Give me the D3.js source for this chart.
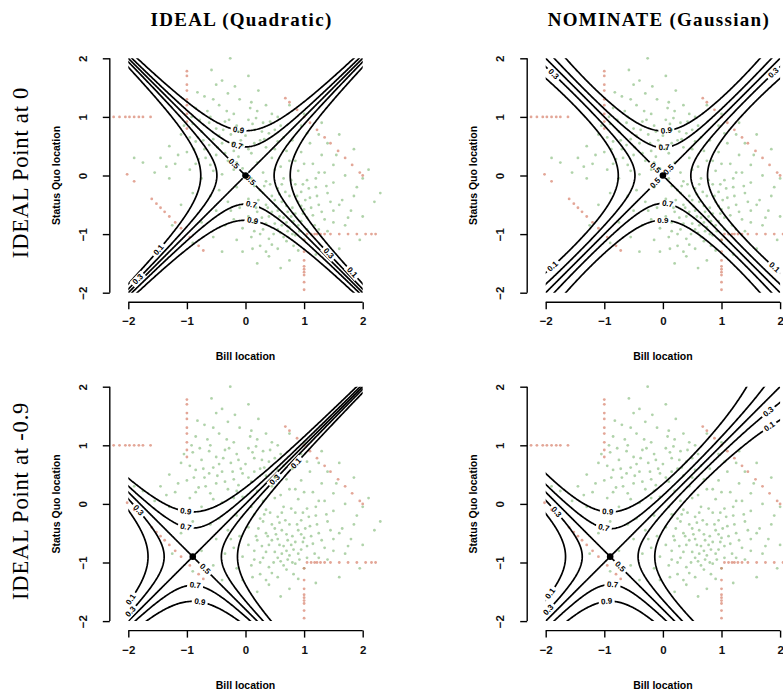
<!DOCTYPE html>
<html>
<head>
<meta charset="utf-8">
<script src="https://cdn.jsdelivr.net/npm/d3@7"></script>
<style>
body { margin: 0; background: #fff; }
</style>
</head>
<body>
<div id="chart"></div>
<script>
var W = 783, H = 695;

// rows = legislator ideal point, columns = utility model
var rowIdeals = [0, -0.9];
var rowLabels = ["IDEAL Point at 0", "IDEAL Point at -0.9"];
var colTitles = ["IDEAL (Quadratic)", "NOMINATE (Gaussian)"];
var colModels = ["quadratic", "gaussian"];
var levels = [0.1, 0.3, 0.5, 0.7, 0.9];
var ticks = [-2, -1, 0, 1, 2];

// estimated bill / status quo pairs (green cloud), [bill, statusQuo]
var billPts = [
  [-0.26,2.0],[-0.58,1.8],[-0.5,1.55],[-0.3,1.4],[-0.7,1.35],[-0.1,1.3],[0.1,1.25],[0.35,1.2],[-0.45,1.2],[-0.85,1.15],
  [0.2,1.1],[-0.2,1.05],[0.45,1.05],[-0.6,1.0],[0.05,0.95],[-0.35,0.92],[0.3,0.9],[-0.9,0.88],[-0.15,0.85],[0.6,0.85],
  [-0.5,0.8],[0.15,0.78],[-0.75,0.75],[0.4,0.72],[-0.25,0.7],[-1.1,0.7],[0.0,0.68],[-0.55,0.62],[0.25,0.6],[-0.85,0.58],
  [0.55,0.58],[-0.4,0.55],[-0.05,0.52],[-1.3,0.5],[0.35,0.48],[-0.7,0.45],[-0.2,0.42],[0.7,0.42],[-1.0,0.4],[0.1,0.38],
  [-0.5,0.35],[-1.45,0.3],[0.45,0.3],[-0.8,0.28],[-0.3,0.25],[0.2,0.22],[-1.2,0.2],[-0.6,0.18],[0.6,0.15],[-0.05,0.12],
  [-0.95,0.1],[-1.55,0.05],[0.3,0.05],[-0.4,0.02],[-1.75,0.22],[-1.9,0.3],[-1.3,-0.05],[-0.75,-0.05],
  [0.8,0.6],[1.1,0.55],[0.95,0.4],[1.3,0.35],[0.75,0.25],[1.15,0.2],[1.5,0.18],[0.5,0.1],[0.9,0.08],[1.35,0.05],
  [1.7,0.0],[0.65,-0.05],[1.05,-0.08],[0.35,-0.1],[1.5,-0.12],[0.85,-0.15],[0.15,-0.18],[1.2,-0.2],[1.9,-0.2],[0.55,-0.22],
  [0.95,-0.28],[0.3,-0.3],[1.4,-0.3],[0.75,-0.35],[1.1,-0.38],[0.05,-0.4],[0.5,-0.42],[1.65,-0.42],[0.9,-0.45],[2.2,-0.45],
  [0.35,-0.5],[1.25,-0.5],[0.7,-0.52],[-0.1,-0.55],[1.0,-0.58],[0.55,-0.6],[1.5,-0.6],[0.2,-0.62],[0.85,-0.65],[1.15,-0.68],
  [0.4,-0.7],[2.0,-0.7],[0.65,-0.72],[-0.2,-0.75],[1.35,-0.75],[0.95,-0.78],[0.15,-0.8],[0.5,-0.82],[1.7,-0.85],[0.75,-0.88],
  [-0.05,-0.9],[0.3,-0.92],[1.05,-0.92],[0.6,-0.98],[0.85,-1.02],[0.1,-1.05],[0.4,-1.08],[-0.15,-1.1],[0.7,-1.12],[0.25,-1.2],
  [0.55,-1.25],[0.9,-1.28],[-0.05,-1.3],[0.4,-1.38],[0.75,-1.45],[0.2,-1.5],[0.6,-1.58],
  [-0.45,-0.25],[-0.15,-0.2],[0.1,-0.05],[-0.6,-0.35],[-0.3,-0.45],[-0.9,-0.3],[-0.5,-0.6],[-1.1,-0.5],[-0.75,-0.8],[-0.35,-0.85],
  [-1.25,-0.85],[-0.55,-1.05],[-0.9,-1.15],[-0.4,-1.3],[-0.2,0.1],[0.25,-0.25],
  [2.3,-0.3],[2.1,0.1],[1.85,0.45],[1.6,0.7],[1.3,0.9],[1.0,1.05],[0.75,1.2],[1.95,-1.1],[1.6,-1.25],[1.2,-1.35],
  [1.4,-0.95],[1.8,-0.6],[2.0,-0.05],[1.25,0.7],
  [0.45,-0.35],[0.8,-0.55],[0.62,-0.85],[1.02,-0.42],[0.28,-0.72],[0.92,-0.95],[1.18,-0.85],[0.48,-1.0],[0.72,-0.62],[0.38,-0.55],
  [1.3,-0.62],[0.15,-0.95],[0.58,-0.32],[0.82,-0.78],[1.08,-0.22],[0.22,-0.42],[-0.62,0.9],[-0.32,1.1],[-0.08,0.6],[-0.48,0.48],
  [0.12,0.88],[-0.72,0.6],[-0.22,0.55],[0.28,0.75],[-0.38,0.78],[-0.92,1.0],[0.08,1.15],[-0.55,1.3],[-0.12,0.32],[-0.68,0.3],
  [0.42,0.92],[-1.05,0.85],
  [-0.82,1.42],[-0.18,1.52],[0.22,1.45],[-0.4,1.62],[0.05,1.7],[-0.65,1.1],[-0.28,0.95],[0.18,0.98],[-0.78,0.95],[0.5,0.78],
  [-0.12,0.75],[-0.45,0.68],[-0.95,0.65],[0.32,0.62],[-0.62,0.52],[0.05,0.45],[-0.88,0.45],[-0.35,0.38],[0.5,0.45],[-1.15,0.35],
  [-0.15,0.22],[-0.55,0.08],[0.15,0.55],[-1.35,0.15],[-0.85,0.2],
  [0.62,-0.15],[1.0,0.2],[1.25,0.05],[0.42,-0.15],[0.78,-0.08],[1.38,-0.18],[0.98,-0.15],[0.68,-0.28],[1.22,-0.35],[0.88,-0.35],
  [0.52,-0.52],[0.62,-0.45],[0.95,-0.52],[1.12,-0.55],[0.78,-0.7],[0.45,-0.62],[1.05,-0.72],[0.35,-0.82],[0.7,-0.8],[0.9,-0.85],
  [1.25,-0.92],[0.55,-0.92],[0.8,-1.0],[0.25,-1.0],[0.65,-1.05],[1.0,-1.1],[0.45,-1.18],[0.82,-1.2],[0.12,-1.25],[1.5,-0.8],
  [1.6,-0.5],[1.45,-0.45],[1.85,-0.35],[1.2,-0.05],[1.55,0.35],[1.75,-0.72],[0.35,-1.3],[0.05,-0.7],[0.18,-0.55],[-0.25,-0.6],
  [0.58,-0.7],[0.72,-0.95],[0.98,-0.65],[0.32,-0.18],[0.85,0.25],[1.05,0.72],[0.65,0.65],[0.95,0.85],[0.55,1.0],[1.4,0.55]
];

// estimated restricted bills (red dashes), [bill, statusQuo]
var redPts = [
  [-2.25,1],[-2.15,1],[-2.05,1],[-1.98,1],[-1.9,1],[-1.82,1],[-1.75,1],[-1.62,1],
  [-1,1.78],[-1,1.7],[-1,1.55],[-1,1.45],[-1,1.3],[-1,1.2],[-1,1.05],[-1,0.92],[-1,0.8],
  [0.68,1.32],[0.75,1.25],[0.88,1.12],[1.0,1.0],[1.1,0.9],[1.22,0.78],[1.35,0.65],[1.45,0.55],[1.58,0.42],[1.7,0.3],[1.82,0.18],[1.95,0.05],[2.0,0.0],
  [-2.02,0.02],[-1.9,-0.1],[-1.6,-0.4],[-1.52,-0.48],[-1.45,-0.55],[-1.38,-0.62],[-1.3,-0.7],[-1.2,-0.8],[-1.1,-0.9],[-0.95,-1.05],[-0.8,-1.2],[-0.72,-1.28],
  [1.05,-1],[1.12,-1],[1.18,-1],[1.22,-1],[1.28,-1],[1.35,-1],[1.45,-1],[1.6,-1],[1.75,-1],[1.9,-1],[2.05,-1],[2.15,-1],[2.22,-1],
  [1,-1.1],[1,-1.3],[1,-1.45],[1,-1.55],[1,-1.6],[1,-1.65],[1,-1.7],[1,-1.82],[1,-1.95]
];

// where the contour labels sit, per panel [row][col]: [level, bill, sq]
var labelSpots = [
  [
    [[0.9,-0.13,0.76],[0.7,-0.15,0.5],[0.7,0.1,-0.5],[0.9,0.13,-0.76],[0.5,-0.26,0.13],[0.5,0.15,0.0],
     [0.1,-1.52,-1.25],[0.3,-1.86,-1.75],[0.3,1.44,-1.3],[0.1,1.81,-1.66]],
    [[0.9,0.07,0.76],[0.7,0.01,0.5],[0.7,0.07,-0.5],[0.9,0.0,-0.78],[0.5,-0.19,0.07],[0.5,-0.19,-0.07],[0.5,0.18,0.03],
     [0.3,-1.89,1.71],[0.1,-1.89,-1.55],[0.3,1.95,1.69],[0.1,1.92,-1.55]]
  ],
  [
    [[0.9,-1.03,-0.16],[0.7,-1.03,-0.42],[0.5,-0.72,-1.13],[0.7,-0.86,-1.41],[0.9,-0.78,-1.67],
     [0.3,-1.83,-0.1],[0.1,-1.94,-1.64],[0.3,-1.89,-1.9],[0.3,0.47,0.44],[0.1,0.87,0.69]],
    [[0.9,-0.93,-0.13],[0.7,-1.01,-0.4],[0.5,-0.76,-1.1],[0.7,-0.87,-1.41],[0.9,-0.96,-1.67],
     [0.3,-1.81,-0.13],[0.1,-1.92,-1.53],[0.3,-1.87,-1.89],[0.3,1.83,1.55],[0.1,1.8,1.34]]
  ]
];

var svg = d3.select("#chart").append("svg")
  .attr("width", W)
  .attr("height", H)
  .style("font-family", "'Liberation Sans', Arial, sans-serif");

function pnorm(z) {
  var t = 1 / (1 + 0.2316419 * Math.abs(z));
  var d = 0.3989423 * Math.exp(-z * z / 2);
  var p = d * t * (0.3193815 + t * (-0.3565638 + t * (1.781478 + t * (-1.821256 + t * 1.330274))));
  return z > 0 ? 1 - p : p;
}

function prob(model, theta, b, q) {
  var db = b - theta, dq = q - theta, z;
  if (model == "quadratic") z = 2.2 * (dq * dq - db * db);
  else z = 9.5 * (Math.exp(-0.25 * db * db) - Math.exp(-0.25 * dq * dq));
  return pnorm(z);
}

// grid for the contour surface
var n = 241, step = 0.02, g0 = -2.4;
function gridB(c) { return g0 + step * (c - 0.5); }
function gridQ(c) { return 2.41 - step * (c - 0.5); }

var colX0 = [128.3, 545.7];
var rowY0 = [58.3, 386.7];
var span = 234.4;

// column titles
colTitles.forEach(function(t, ci) {
  svg.append("text")
    .attr("x", colX0[ci] + span / 2 - 4)
    .attr("y", 26)
    .attr("text-anchor", "middle")
    .style("font-family", "'Liberation Serif', 'DejaVu Serif', serif")
    .style("font-weight", "bold")
    .style("font-size", "19px")
    .style("letter-spacing", "1.3px")
    .text(t);
});

// row labels
rowLabels.forEach(function(t, ri) {
  svg.append("text")
    .attr("transform", "translate(28," + (rowY0[ri] + span / 2 - 3) + ") rotate(-90)")
    .attr("text-anchor", "middle")
    .style("font-family", "'Liberation Serif', 'DejaVu Serif', serif")
    .style("font-size", "22.5px")
    .style("letter-spacing", "0.8px")
    .text(t);
});

rowIdeals.forEach(function(theta, ri) {
  colModels.forEach(function(model, ci) {
    var id = "p" + ri + ci;
    var xs = d3.scaleLinear().domain([-2, 2]).range([colX0[ci], colX0[ci] + span]);
    var ys = d3.scaleLinear().domain([-2, 2]).range([rowY0[ri] + span, rowY0[ri]]);
    var g = svg.append("g").attr("class", "panel");

    var axisX = colX0[ci] - 18.5;
    var axisY = rowY0[ri] + span + 9.5;

    // axes
    var fmt = function(d) { return d < 0 ? "\u2212" + Math.abs(d) : d; };
    var xAxis = d3.axisBottom(xs).tickValues(ticks).tickSize(7).tickPadding(8).tickFormat(fmt);
    var gx = g.append("g").attr("transform", "translate(0," + axisY + ")").call(xAxis);
    gx.select(".domain").attr("d", "M" + xs(-2) + ",0H" + xs(2));
    var yAxis = d3.axisLeft(ys).tickValues(ticks).tickSize(7).tickFormat(fmt);
    var gy = g.append("g").attr("transform", "translate(" + axisX + ",0)").call(yAxis);
    gy.select(".domain").attr("d", "M0," + ys(-2) + "V" + ys(2));
    gy.selectAll(".tick text")
      .attr("x", null).attr("dy", null)
      .attr("transform", "translate(-27,0) rotate(-90)")
      .attr("text-anchor", "middle")
      .attr("dominant-baseline", "central");
    [gx, gy].forEach(function(a) {
      a.selectAll("path, line").attr("stroke", "#000").attr("stroke-width", 1.4);
      a.selectAll("text").style("font-size", "11.5px").style("font-weight", "bold")
        .style("font-family", "'Liberation Sans', Arial, sans-serif").attr("fill", "#111");
    });

    g.append("text")
      .attr("x", xs(0))
      .attr("y", axisY + 58)
      .attr("text-anchor", "middle")
      .style("font-size", "10.5px")
      .style("font-weight", "bold")
      .text("Bill location");
    g.append("text")
      .attr("transform", "translate(" + (axisX - 50) + "," + ys(0) + ") rotate(-90)")
      .attr("text-anchor", "middle")
      .style("font-size", "10.5px")
      .style("font-weight", "bold")
      .text("Status Quo location");

    // points
    g.append("g").selectAll("circle")
      .data(billPts)
      .enter().append("circle")
      .attr("cx", d => xs(d[0]))
      .attr("cy", d => ys(d[1]))
      .attr("r", 1.4)
      .attr("fill", "#86bb7d")
      .attr("opacity", 0.65);
    g.append("g").selectAll("circle")
      .data(redPts)
      .enter().append("circle")
      .attr("cx", d => xs(d[0]))
      .attr("cy", d => ys(d[1]))
      .attr("r", 1.4)
      .attr("fill", "#d4775f")
      .attr("opacity", 0.65);

    // contour surface
    var vals = new Float64Array(n * n);
    for (var j = 0; j < n; j++) {
      for (var i = 0; i < n; i++) {
        vals[j * n + i] = prob(model, theta, g0 + step * i, 2.41 - step * j);
      }
    }
    var cs = d3.contours().size([n, n]).thresholds(levels)(vals);
    var proj = d3.geoTransform({
      point: function(x, y) { this.stream.point(xs(gridB(x)), ys(gridQ(y))); }
    });
    var path = d3.geoPath(proj);

    // label placement on the lines
    var labs = labelSpots[ri][ci].map(function(s) {
      var c = cs[levels.indexOf(s[0])];
      var tx = xs(s[1]), ty = ys(s[2]);
      var best = null, bd = Infinity;
      c.coordinates.forEach(function(poly) {
        poly.forEach(function(ring) {
          var pts = ring.map(function(p) { return [gridB(p[0]), gridQ(p[1])]; });
          pts.forEach(function(p, k) {
            if (Math.abs(p[0]) > 2.02 || Math.abs(p[1]) > 2.02) return;
            var px = xs(p[0]), py = ys(p[1]);
            var dd = (px - tx) * (px - tx) + (py - ty) * (py - ty);
            if (dd < bd) {
              bd = dd;
              var a = pts[(k - 2 + pts.length) % pts.length], b = pts[(k + 2) % pts.length];
              best = { x: px, y: py, ang: Math.atan2(ys(b[1]) - ys(a[1]), xs(b[0]) - xs(a[0])) * 180 / Math.PI };
            }
          });
        });
      });
      var ang = best.ang;
      if (ang > 90) ang -= 180;
      if (ang <= -90) ang += 180;
      return { x: best.x, y: best.y, ang: ang, text: String(s[0]) };
    });

    var defs = svg.append("defs");
    defs.append("clipPath").attr("id", "clip" + id)
      .append("rect").attr("x", xs(-2)).attr("y", ys(2)).attr("width", span).attr("height", span);
    var mask = defs.append("mask").attr("id", "mask" + id).attr("maskUnits", "userSpaceOnUse")
      .attr("x", 0).attr("y", 0).attr("width", W).attr("height", H);
    mask.append("rect").attr("width", W).attr("height", H).attr("fill", "#fff");
    mask.selectAll("rect.gap")
      .data(labs)
      .enter().append("rect")
      .attr("class", "gap")
      .attr("x", -8).attr("y", -4).attr("width", 16).attr("height", 8)
      .attr("fill", "#000")
      .attr("transform", d => "translate(" + d.x + "," + d.y + ") rotate(" + d.ang + ")");

    g.append("g")
      .attr("clip-path", "url(#clip" + id + ")")
      .attr("mask", "url(#mask" + id + ")")
      .selectAll("path")
      .data(cs)
      .enter().append("path")
      .attr("d", path)
      .attr("fill", "none")
      .attr("stroke", "#000")
      .attr("stroke-width", 1.7)
      .attr("stroke-linejoin", "round");

    g.append("circle")
      .attr("cx", xs(theta))
      .attr("cy", ys(theta))
      .attr("r", 3.3)
      .attr("fill", "#000");

    g.append("g").selectAll("text")
      .data(labs)
      .enter().append("text")
      .attr("transform", d => "translate(" + d.x + "," + d.y + ") rotate(" + d.ang + ")")
      .attr("text-anchor", "middle")
      .attr("dominant-baseline", "central")
      .attr("fill", "#000")
      .style("font-size", "8px")
      .style("font-weight", "bold")
      .text(d => d.text);
  });
});
</script>
</body>
</html>
